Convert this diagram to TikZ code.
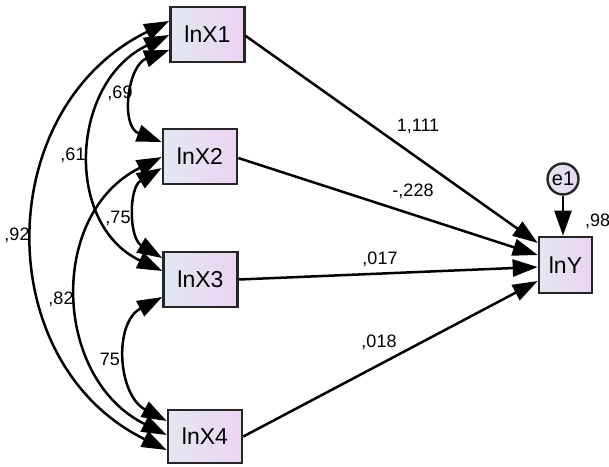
\documentclass[tikz,border=0pt]{standalone}
\usepackage{fontspec}
\setmainfont{Liberation Sans}
\usetikzlibrary{arrows.meta}
\definecolor{boxA}{RGB}{226,232,242}
\definecolor{boxB}{RGB}{236,212,242}
\tikzset{
  var/.style={draw=black!85, line width=2.6pt, minimum width=74pt, minimum height=55pt,
    inner sep=0pt, left color=boxA, right color=boxB, font=\fontsize{23}{23}\selectfont},
  errc/.style={circle, draw=black!85, line width=2.4pt, minimum size=31pt, inner sep=0pt,
    left color=boxA, right color=boxB, font=\fontsize{20}{20}\selectfont},
  cov/.style={line width=2.5pt, {Triangle[length=25pt,width=17pt]}-{Triangle[length=25pt,width=17pt]}},
  reg/.style={line width=2.5pt, -{Triangle[length=25pt,width=17pt]}},
  lab/.style={font=\fontsize{18}{18}\selectfont, inner sep=0pt}
}
\begin{document}
\begin{tikzpicture}[x=1pt,y=-1pt]
\useasboundingbox (0,0) rectangle (609,466);
% variables
\node[var] (X1) at (207.5,34.5) {lnX1};
\node[var] (X2) at (200,156.5) {lnX2};
\node[var] (X3) at (200.5,279.5) {lnX3};
\node[var,minimum height=53pt] (X4) at (205,436.5) {lnX4};
\node[var,minimum width=53pt,minimum height=56pt] (Y) at (565.5,265) {lnY};
\node[errc] (e1) at (563,179) {e1};
% endpoints on the left sides
\coordinate (c14) at ([yshift=13.5pt]X1.west);
\coordinate (c13) at ([yshift=-0.5pt]X1.west);
\coordinate (c12) at ([yshift=-15.5pt]X1.west);
\coordinate (c21) at ([yshift=14.5pt]X2.west);
\coordinate (c24) at ([yshift=-0.5pt]X2.west);
\coordinate (c23) at ([yshift=-11.5pt]X2.west);
\coordinate (c32) at ([yshift=21.5pt]X3.west);
\coordinate (c31) at ([yshift=8.5pt]X3.west);
\coordinate (c34) at ([yshift=-17.5pt]X3.west);
\coordinate (c43) at ([yshift=15.5pt]X4.west);
\coordinate (c42) at ([yshift=1.5pt]X4.west);
\coordinate (c41) at ([yshift=-13.5pt]X4.west);
\coordinate (y1) at ([yshift=22pt]Y.west);
\coordinate (y2) at ([yshift=10pt]Y.west);
\coordinate (y3) at ([yshift=-2pt]Y.west);
\coordinate (y4) at ([yshift=-16pt]Y.west);
% covariances
\draw[cov] (c12) .. controls (127.5,65.6) and (120,126.4) .. (c21);
\draw[cov] (c13) .. controls (70.3,81.8) and (63.3,224.2) .. (c31);
\draw[cov] (c14) .. controls (-8.3,108.1) and (-10.8,362.9) .. (c41);
\draw[cov] (c23) .. controls (128.4,188) and (128.9,238) .. (c32);
\draw[cov] (c24) .. controls (47.6,213.7) and (52.6,378.3) .. (c42);
\draw[cov] (c34) .. controls (113.2,323) and (117.7,395) .. (c43);
% regressions
\draw[reg] ([yshift=-1.5pt]X1.east) -- (y1);
\draw[reg] ([yshift=-1.5pt]X2.east) -- (y2);
\draw[reg] (X3.east) -- (y3);
\draw[reg] (X4.east) -- (y4);
\draw[reg] (e1) -- (e1 |- Y.north);
% labels
\node[lab] (l69) at (120,93) {,69};
\node[lab] (l61) at (73,155) {,61};
\node[lab] (l92) at (17,235) {,92};
\node[lab] (l75a) at (118,218) {,75};
\node[lab] (l82) at (61,299) {,82};
\node[lab] (l75b) at (110,359) {75};
\node[lab] (l1111) at (418,126) {1,111};
\node[lab] (l228) at (413,191) {-,228};
\node[lab] (l017) at (380,259) {,017};
\node[lab] (l018) at (379,342) {,018};
\node[lab,anchor=west] (l98) at (585,221) {,98};
\end{tikzpicture}
\end{document}
